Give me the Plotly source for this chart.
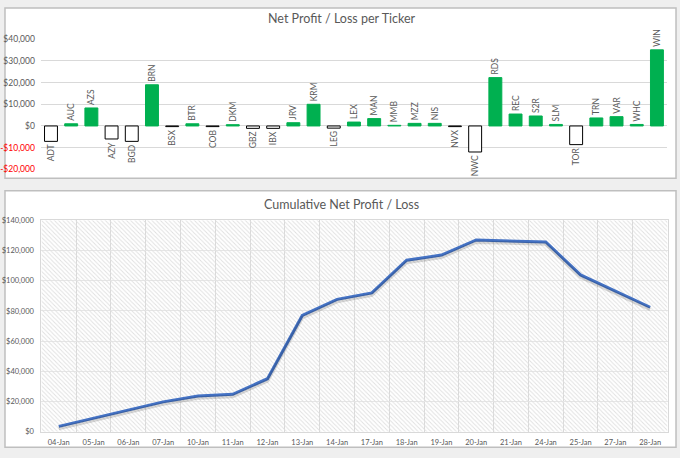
import plotly.graph_objects as go

# ---- data: net profit / loss per ticker ----
TICKERS = ["ADT", "AUC", "AZS", "AZY", "BGD", "BRN", "BSX", "BTR", "COB", "DKM",
           "GBZ", "IBX", "JRV", "KRM", "LEG", "LEX", "MAN", "MMB", "MZZ", "NIS",
           "NVX", "NWC", "RDS", "REC", "S2R", "SLM", "TOR", "TRN", "VAR", "WHC", "WIN"]
PROFIT = [-7100, 1000, 8300, -6000, -7100, 19000, -300, 1000, -300, 600,
          -1100, -1100, 1500, 10000, -1000, 1800, 3400, 300, 1200, 1200,
          -300, -12000, 22300, 5500, 4600, 700, -8600, 3700, 4300, 700, 35100]

# ---- data: cumulative net profit / loss ----
DATES = ["04-Jan", "05-Jan", "06-Jan", "07-Jan", "10-Jan", "11-Jan", "12-Jan", "13-Jan",
         "14-Jan", "17-Jan", "18-Jan", "19-Jan", "20-Jan", "21-Jan", "24-Jan", "25-Jan",
         "27-Jan", "28-Jan"]
CUMULATIVE = [3600, 9000, 14900, 19800, 23700, 24800, 35100, 77000,
              87600, 91900, 113500, 116900, 126900, 126400, 125600, 103800,
              93200, 82400]

TOP_TICKS = [-20000, -10000, 0, 10000, 20000, 30000, 40000]
BOTTOM_MAX = 140000

W, H = 680, 458
FONT = "Lato"
GREY = "#595959"
GRID = "#D9D9D9"


def px_x(p):
    return p / W


def px_y(p):
    return 1 - p / H


def money(v):
    return ("-$" if v < 0 else "$") + f"{abs(v):,}"


fig = go.Figure()

# Top: bars
fig.add_trace(go.Bar(
    x=TICKERS, y=PROFIT, xaxis="x", yaxis="y",
    width=0.64,
    marker=dict(color=["#00B050" if v >= 0 else "#FFFFFF" for v in PROFIT],
                line=dict(color=["#00B050" if v >= 0 else "#000000" for v in PROFIT],
                          width=1)),
    text=TICKERS, textposition="outside", textangle=-90,
    outsidetextfont=dict(family=FONT, size=8.5, color=GREY),
    cliponaxis=False, constraintext="none",
    hoverinfo="x+y", showlegend=False,
))

# Bottom: hatched plot-area background (one full-width cell per category)
fig.add_trace(go.Bar(
    x=DATES, y=[BOTTOM_MAX] * len(DATES), xaxis="x2", yaxis="y2",
    width=1,
    marker=dict(color="rgba(0,0,0,0)", line=dict(width=0),
                pattern=dict(shape="\\", fgcolor="#E0E0E0", bgcolor="rgba(0,0,0,0)",
                             size=3, solidity=0.3, fillmode="replace")),
    hoverinfo="skip", showlegend=False,
))

# line shadow
fig.add_trace(go.Scatter(
    x=DATES, y=CUMULATIVE, xaxis="x2", yaxis="y3", mode="lines",
    line=dict(color="rgba(0,0,0,0.15)", width=3.5),
    hoverinfo="skip", showlegend=False,
))

fig.add_trace(go.Scatter(
    x=DATES, y=CUMULATIVE, xaxis="x2", yaxis="y2", mode="lines",
    line=dict(color="#4472C4", width=3),
    showlegend=False,
))

top_dom_x = [px_x(39), px_x(667)]
top_dom_y = [px_y(168), px_y(35)]
bot_dom_x = [px_x(39.5), px_x(667.5)]
bot_dom_y = [px_y(436.3), px_y(220)]

shadow_offset = 2.2 * BOTTOM_MAX / (436.3 - 220)

ticktext = [f'<span style="color:#FF0000">{money(v)}</span>' if v < 0 else money(v)
            for v in TOP_TICKS]

fig.update_layout(
    width=W, height=H,
    margin=dict(l=0, r=0, t=0, b=0),
    paper_bgcolor="#EFEFEF",
    plot_bgcolor="rgba(0,0,0,0)",
    font=dict(family=FONT, color=GREY),
    bargap=0.36,
    xaxis=dict(domain=top_dom_x, anchor="y", type="category",
               showticklabels=False, showgrid=False, zeroline=False,
               showline=False, ticks="", fixedrange=True),
    yaxis=dict(domain=top_dom_y, anchor="x", range=[-20000, 40000],
               tickvals=TOP_TICKS, ticktext=ticktext,
               tickfont=dict(family=FONT, size=8.5, color=GREY),
               showgrid=True, gridcolor=GRID, gridwidth=1,
               zeroline=True, zerolinecolor=GRID, zerolinewidth=1,
               ticks="", ticklabelstandoff=5, fixedrange=True),
    xaxis2=dict(domain=bot_dom_x, anchor="y2", type="category",
                tickson="boundaries", ticks="",
                showgrid=True, gridcolor=GRID, gridwidth=1,
                showline=True, linecolor=GRID, mirror=True,
                tickfont=dict(family=FONT, size=7.5, color=GREY),
                ticklabelstandoff=3, fixedrange=True),
    yaxis2=dict(domain=bot_dom_y, anchor="x2", range=[0, BOTTOM_MAX],
                dtick=20000, tickprefix="$", tickformat=",",
                tickfont=dict(family=FONT, size=7.5, color=GREY),
                showgrid=True, gridcolor="#E6E6E6", gridwidth=1,
                zeroline=False, showline=True, linecolor=GRID, mirror=True,
                ticks="", ticklabelstandoff=5, fixedrange=True),
    yaxis3=dict(overlaying="y2", range=[shadow_offset, BOTTOM_MAX + shadow_offset],
                visible=False, fixedrange=True),
    shapes=[
        dict(type="rect", xref="paper", yref="paper",
             x0=px_x(3), x1=px_x(676), y0=px_y(177), y1=px_y(3),
             fillcolor="#FFFFFF", line=dict(color="#BFBFBF", width=1.5), layer="below"),
        dict(type="rect", xref="paper", yref="paper",
             x0=px_x(3), x1=px_x(676), y0=px_y(452), y1=px_y(190),
             fillcolor="#FFFFFF", line=dict(color="#BFBFBF", width=1.5), layer="below"),
    ],
    annotations=[
        dict(text="Net Profit / Loss per Ticker", xref="paper", yref="paper",
             x=px_x(341), y=px_y(14), xanchor="center", yanchor="middle",
             showarrow=False, font=dict(family=FONT, size=12.5, color=GREY)),
        dict(text="Cumulative Net Profit / Loss", xref="paper", yref="paper",
             x=px_x(340), y=px_y(204), xanchor="center", yanchor="middle",
             showarrow=False, font=dict(family=FONT, size=12.5, color=GREY)),
    ],
)

fig.write_html("out.html", config={"displayModeBar": False},
               post_script="document.body.style.margin='0';document.body.style.overflow='hidden';")
